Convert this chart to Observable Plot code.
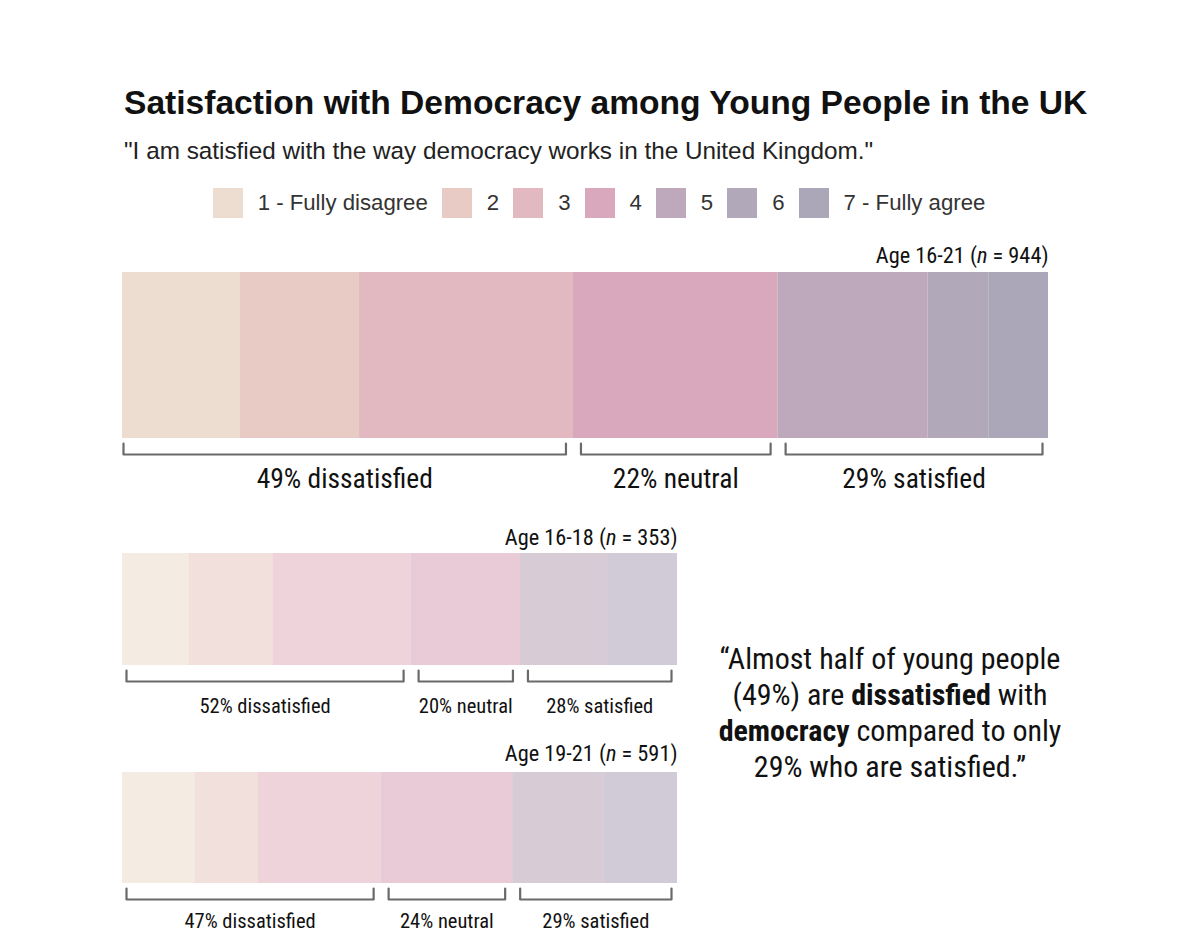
<!DOCTYPE html>
<html><head><meta charset="utf-8">
<script src="https://cdn.jsdelivr.net/npm/d3@7"></script>
<script src="https://cdn.jsdelivr.net/npm/@observablehq/plot@0.6"></script>
<style>
body{margin:0;background:#fff;}
#root{position:relative;width:1200px;height:946px;overflow:hidden;font-family:"Liberation Sans",Arial,sans-serif;color:#111;}
.abs{position:absolute;}
#title{left:124px;top:84px;font-size:33.6px;font-weight:bold;white-space:nowrap;}
#subtitle{left:124px;top:136.5px;font-size:24.3px;white-space:nowrap;color:#222;}
#legend{left:6px;top:188px;width:1200px;height:30px;display:flex;justify-content:center;align-items:center;font-size:22.2px;color:#333;}
#legend .sw{width:30px;height:30px;margin-right:15px;flex:none;}
#legend .lb{margin-right:14px;white-space:nowrap;}
#quote{left:690px;top:641px;width:400px;text-align:center;font-size:30px;line-height:36px;color:#111;}
.cond{font-family:"Roboto Condensed","Liberation Sans Narrow","DejaVu Sans Condensed","Roboto",sans-serif;}
</style></head><body><div id="root">
<div id="title" class="abs"></div>
<div id="subtitle" class="abs"></div>
<div id="legend" class="abs"></div>
<div id="quote" class="abs cond"></div>
</div>
<script>
// ---- data ----
const categories = ["1 - Fully disagree", "2", "3", "4", "5", "6", "7 - Fully agree"];
const colors = ["#ecddd0", "#e8cbc4", "#e2b8c1", "#d9a8bd", "#bda9bb", "#b1a8ba", "#aca6b9"];
const groups = ["Age 16-21", "Age 16-18", "Age 19-21"];
const sampleSizes = [944, 353, 591];
const values1621 = [12.7, 12.9, 23.1, 22.1, 16.2, 6.6, 6.4];
const values1618 = [12.0, 15.2, 24.8, 19.7, 15.7, 12.6, 0];
const values1921 = [13.1, 11.4, 22.1, 23.7, 16.5, 13.2, 0];
const blocks = ["dissatisfied", "neutral", "satisfied"];
const blockCats = [[0, 1, 2], [3], [4, 5, 6]];
const blockPct1621 = [49, 22, 29];
const blockPct1618 = [52, 20, 28];
const blockPct1921 = [47, 24, 29];
const titleText = "Satisfaction with Democracy among Young People in the UK";
const subtitleText = "\"I am satisfied with the way democracy works in the United Kingdom.\"";

const COND = "\"Roboto Condensed\",\"Liberation Sans Narrow\",\"DejaVu Sans Condensed\",Roboto,sans-serif";
const root = document.getElementById("root");
document.getElementById("title").textContent = titleText;
document.getElementById("subtitle").textContent = subtitleText;

// legend
const leg = document.getElementById("legend");
categories.forEach((c, i) => {
  const sw = document.createElement("div"); sw.className = "sw"; sw.style.background = colors[i];
  const lb = document.createElement("div"); lb.className = "lb"; lb.textContent = c;
  leg.appendChild(sw); leg.appendChild(lb);
});

// quote
document.getElementById("quote").innerHTML =
  `“Almost half of young people<br>(${blockPct1621[0]}%) are <b>dissatisfied</b> with<br><b>democracy</b> compared to only<br>${blockPct1621[2]}% who are satisfied.”`;

function drawBar(cfg) {
  const {values, group, n, pcts, width, mr, top, height, L, labelSize, blockSize, opacity} = cfg;
  const ml = 122;
  const barPx = width - ml - mr;
  const ends = d3.cumsum(values);
  const data = categories.map((c, i) => ({cat: c, x1: ends[i] - values[i], x2: ends[i]})).filter(d => d.x2 > d.x1);
  const px = p => p / barPx * 100;
  const blockData = blocks.map((b, j) => {
    const idx = blockCats[j];
    const s = ends[idx[0]] - values[idx[0]];
    const e = ends[idx[idx.length - 1]];
    const s2 = s + (j === 0 ? px(L.outerL) : px(7.5));
    const e2 = e - (j === blocks.length - 1 ? px(6) : px(7.5));
    return {name: b, pct: pcts[j], s: s2, e: e2, mid: (s2 + e2) / 2};
  });
  const bracketPts = blockData.flatMap(b => [
    {z: b.name, x: b.s, y: L.brTop}, {z: b.name, x: b.s, y: L.brBot},
    {z: b.name, x: b.e, y: L.brBot}, {z: b.name, x: b.e, y: L.brTop}
  ]);
  const svg = Plot.plot({
    width, height,
    marginLeft: ml, marginRight: mr, marginTop: 0, marginBottom: 0,
    x: {domain: [0, 100], axis: null},
    y: {domain: [0, height], range: [0, height], axis: null},
    color: {domain: categories, range: colors},
    style: {fontFamily: COND, fontSize: "20px", color: "#111", background: "transparent", overflow: "visible"},
    marks: [
      Plot.rect(data, {x1: "x1", x2: "x2", y1: () => L.barTop, y2: () => L.barBot, fill: "cat", fillOpacity: opacity}),
      Plot.line(bracketPts, {x: "x", y: "y", z: "z", stroke: "#6a6a6a", strokeWidth: 2.2, curve: "linear"}),
      Plot.text(blockData, {x: "mid", y: () => L.blockY, text: d => `${d.pct}% ${d.name}`, fontSize: blockSize, lineAnchor: "bottom", fill: "#111"}),
      Plot.text([group], {x: () => 100, y: () => L.labelY, text: d => d, textAnchor: "end", lineAnchor: "bottom", fontSize: labelSize, fill: "#111", className: "agelab"})
    ]
  });
  svg.querySelectorAll(".agelab text").forEach(t => {
    t.innerHTML = `${group} (<tspan font-style="italic">n</tspan> = ${n})`;
  });
  const wrap = document.createElement("div");
  wrap.className = "abs";
  wrap.style.left = "0px";
  wrap.style.top = top + "px";
  wrap.appendChild(svg);
  root.appendChild(wrap);
}

drawBar({values: values1621, group: groups[0], n: sampleSizes[0], pcts: blockPct1621,
  width: 1200, mr: 152, top: 230, height: 280,
  L: {labelY: 32, barTop: 42, barBot: 208, brTop: 213, brBot: 224, blockY: 257, outerL: 1},
  labelSize: 22.3, blockSize: 27.5, opacity: 1});
drawBar({values: values1618, group: groups[1], n: sampleSizes[1], pcts: blockPct1618,
  width: 700, mr: 23, top: 520, height: 200,
  L: {labelY: 24, barTop: 33, barBot: 145, brTop: 150, brBot: 161, blockY: 192, outerL: 4},
  labelSize: 22.3, blockSize: 20.5, opacity: 0.6});
drawBar({values: values1921, group: groups[2], n: sampleSizes[2], pcts: blockPct1921,
  width: 700, mr: 23, top: 740, height: 206,
  L: {labelY: 20, barTop: 32, barBot: 143, brTop: 148, brBot: 159, blockY: 187, outerL: 4},
  labelSize: 22.3, blockSize: 20.5, opacity: 0.6});
</script>
</body></html>
